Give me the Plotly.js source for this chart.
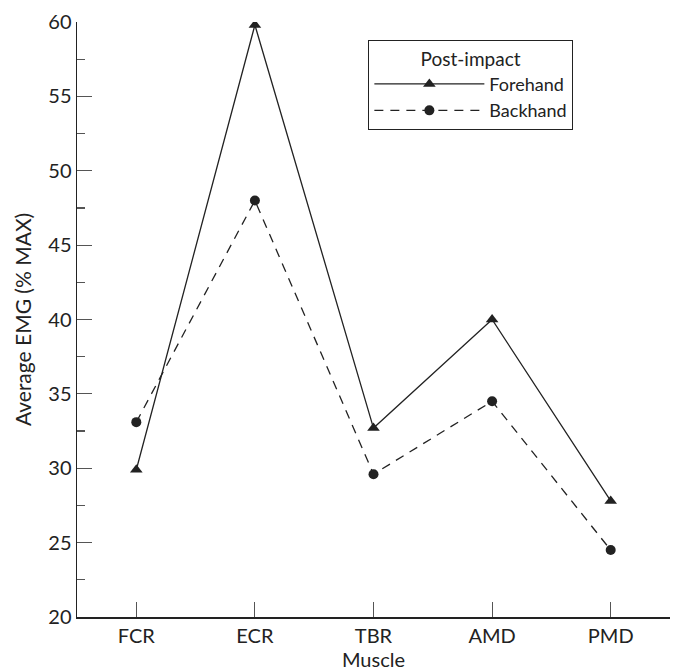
<!DOCTYPE html>
<html><head><meta charset="utf-8">
<script src="https://cdn.plot.ly/plotly-3.0.1.min.js"></script>
<style>html,body{margin:0;padding:0;background:#fff}#chart{width:678px;height:672px}</style>
</head><body><div id="chart"></div>
<script>
const muscles = ["FCR", "ECR", "TBR", "AMD", "PMD"];
const forehand = [29.9, 59.8, 32.7, 40.0, 27.8];
const backhand = [33.1, 48.0, 29.6, 34.5, 24.5];
const yTicks = [20, 25, 30, 35, 40, 45, 50, 55, 60];

const font = "Lato, 'Open Sans', sans-serif";
const ink = "#222";

const traces = [
  {x: muscles, y: forehand, name: "Forehand", type: "scatter", mode: "lines+markers",
   line: {color: ink, width: 1.3},
   marker: {symbol: "triangle-up", size: 11, color: ink}},
  {x: muscles, y: backhand, name: "Backhand", type: "scatter", mode: "lines+markers",
   line: {color: ink, width: 1.3, dash: "9px,7px"},
   marker: {symbol: "circle", size: 10, color: ink}}
];

const layout = {
  width: 678, height: 672,
  margin: {l: 77, r: 8, t: 22, b: 55},
  paper_bgcolor: "#fff", plot_bgcolor: "#fff",
  font: {family: font, size: 20, color: ink},
  showlegend: true,
  legend: {x: 0.491, y: 0.97, xanchor: "left", yanchor: "top",
    bordercolor: ink, borderwidth: 1.2, bgcolor: "#fff",
    title: {text: "Post-impact", side: "top center", font: {size: 19}},
    font: {size: 18}, itemwidth: 110, tracegroupgap: 0},
  xaxis: {type: "category", range: [-0.5, 4.5], showgrid: false, zeroline: false,
    showline: true, linecolor: ink, linewidth: 1.5,
    ticks: "inside", ticklen: 15, tickcolor: "#555", tickwidth: 1.2,
    tickfont: {size: 20}, title: {text: "Muscle", standoff: 2, font: {size: 20}}},
  yaxis: {range: [20, 60], showgrid: false, zeroline: false,
    showline: true, linecolor: ink, linewidth: 1.5,
    tickvals: yTicks, ticks: "inside", ticklen: 15, tickcolor: "#555", tickwidth: 1.2,
    minor: {dtick: 2.5, ticks: "inside", ticklen: 8, tickcolor: "#555", tickwidth: 1.2},
    tickfont: {size: 20}, title: {text: "Average EMG (% MAX)", standoff: 11, font: {size: 21}}}
};

Plotly.newPlot("chart", traces, layout, {displayModeBar: false, staticPlot: true});
</script></body></html>
